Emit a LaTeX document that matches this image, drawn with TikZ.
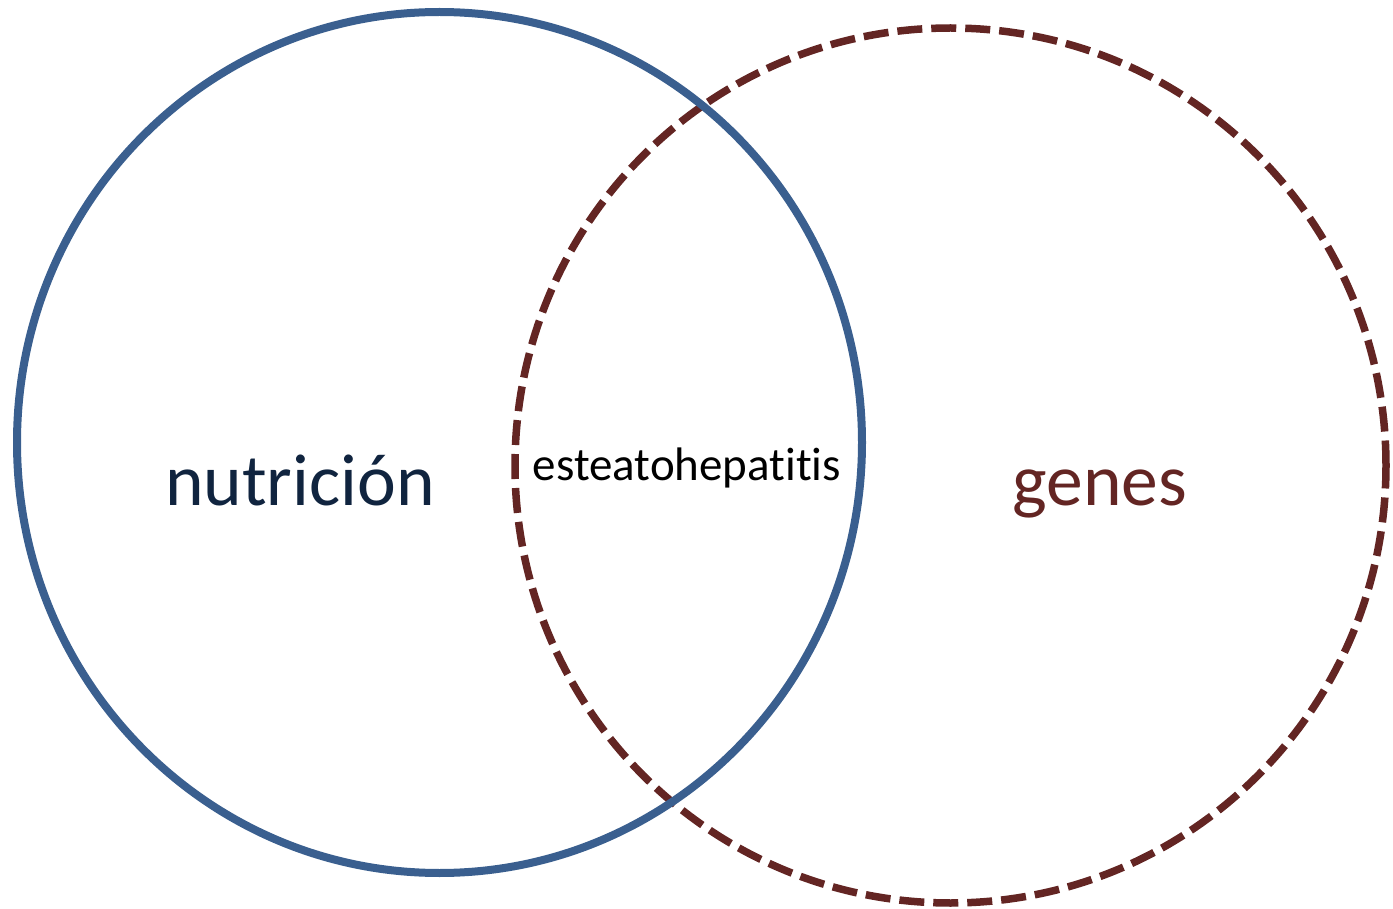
\documentclass[tikz,border=0pt]{standalone}
\usepackage{fontspec}
\setmainfont{Carlito}[Ligatures={NoCommon}]
\definecolor{vblue}{HTML}{3A5F8F}
\definecolor{vred}{HTML}{632523}
\definecolor{vnavy}{HTML}{10243F}
\begin{document}
\begin{tikzpicture}[x=1pt,y=-1pt,
  setA/.style={draw=vblue,line width=8pt},
  setB/.style={draw=vred,line width=7.5pt,dash pattern=on 25pt off 9pt},
  lbl/.style={anchor=base,inner sep=0pt}]
\useasboundingbox (0,0) rectangle (1393,909);
\path[setB] (950.5,465.5) ellipse [x radius=435.5pt,y radius=437.5pt];
\path[setA] (439.5,442.5) ellipse [x radius=422.5pt,y radius=430.5pt];
\node[lbl,text=vnavy,font=\fontsize{73.5pt}{80pt}\selectfont] (nut) at (300,505) {nutrición};
\node[lbl,text=vred,font=\fontsize{73.5pt}{80pt}\selectfont] (gen) at (1100,505) {genes};
\node[lbl,text=black,font=\fontsize{47pt}{52pt}\selectfont] (est) at (687,480) {esteatohepatitis};
\end{tikzpicture}
\end{document}
